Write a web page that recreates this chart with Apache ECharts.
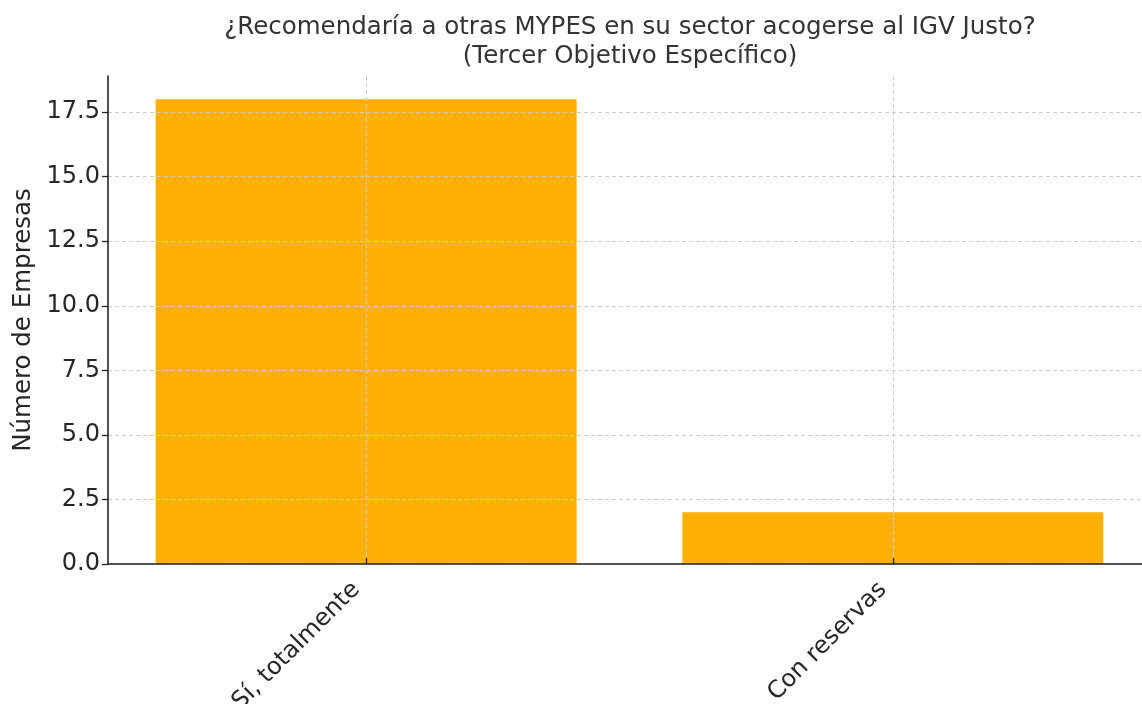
<!DOCTYPE html>
<html>
<head>
<meta charset="utf-8">
<script src="https://cdn.jsdelivr.net/npm/echarts@6/dist/echarts.min.js"></script>
<style>
  html, body { margin: 0; padding: 0; background: #fff; }
  #chart { width: 1142px; height: 704px; }
</style>
</head>
<body>
<div id="chart"></div>
<script>
// Respuestas de las MYPES
const categories = ['Sí, totalmente', 'Con reservas'];
const empresas = [18, 2];
const yTicks = [0, 2.5, 5, 7.5, 10, 12.5, 15, 17.5];

const titleText = '¿Recomendaría a otras MYPES en su sector acogerse al IGV Justo?\n(Tercer Objetivo Específico)';
const yName = 'Número de Empresas';

const FONT = 'DejaVu Sans';
const catIdx = categories.map((_, i) => i);

const chart = echarts.init(document.getElementById('chart'), null, { renderer: 'canvas' });
chart.setOption({
  animation: false,
  backgroundColor: '#ffffff',
  title: {
    text: titleText,
    left: 625,
    textAlign: 'center',
    top: 8,
    textStyle: { fontFamily: FONT, fontSize: 24.5, fontWeight: 'normal', color: '#333333', lineHeight: 29 }
  },
  grid: { left: 108, right: 0, top: 76, bottom: 140, containLabel: false, outerBoundsMode: 'none' },
  xAxis: {
    type: 'value',
    min: -0.49,
    max: 1.473,
    z: 5,
    axisLine: { show: true, onZero: false, lineStyle: { color: '#222', width: 1.6 } },
    axisTick: { show: true, inside: true, length: 6, customValues: catIdx, lineStyle: { color: '#222', width: 1.3 } },
    axisLabel: {
      customValues: catIdx,
      rotate: 45,
      fontFamily: FONT, fontSize: 24, color: '#262626', margin: 12,
      padding: [0, 14, 0, 0],
      formatter: v => categories[Math.round(v)]
    },
    splitLine: { show: true, lineStyle: { color: '#cccccc', type: [4, 3], width: 1 } }
  },
  yAxis: {
    type: 'value',
    min: 0,
    max: 18.9,
    z: 5,
    name: yName,
    nameLocation: 'middle',
    nameGap: 69,
    nameTextStyle: { fontFamily: FONT, fontSize: 24.5, color: '#262626' },
    axisLine: { show: true, onZero: false, lineStyle: { color: '#222', width: 1.6 } },
    axisTick: { show: true, length: 6, customValues: yTicks, lineStyle: { color: '#222', width: 1.3 } },
    axisLabel: {
      customValues: yTicks,
      fontFamily: FONT, fontSize: 24, color: '#262626', margin: 8,
      formatter: v => v.toFixed(1)
    },
    splitLine: { show: true, lineStyle: { color: '#cccccc', type: [4, 3], width: 1 } }
  },
  series: [{
    type: 'bar',
    z: 1,
    data: empresas.map((v, i) => [catIdx[i], v]),
    barWidth: 421,
    itemStyle: { color: '#FFB000' }
  }]
});
</script>
</body>
</html>
